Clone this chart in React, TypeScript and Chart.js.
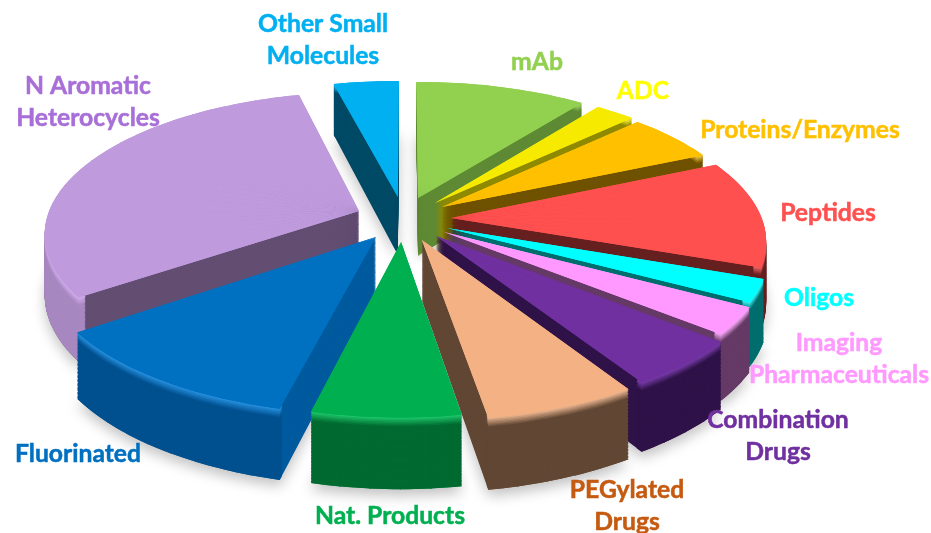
import React, { useEffect, useRef } from "react";
import { Chart, registerables } from "chart.js";

Chart.register(...registerables);

const categories = ["mAb", "ADC", "Proteins/Enzymes", "Peptides", "Oligos", "Imaging Pharmaceuticals", "Combination Drugs", "PEGylated Drugs", "Nat. Products", "Fluorinated", "N Aromatic Heterocycles", "Other Small Molecules"];
const shares = [10.3, 2.4, 5.6, 12.2, 2.5, 3.0, 5.1, 6.3, 6.3, 11.4, 30.9, 3.9];
const explodeU = [0.042, 0.096, 0.118, 0.145, 0.131, 0.121, 0.096, 0.052, -0.012, -0.09, -0.146, -0.023];
const explodeV = [-0.124, -0.087, -0.058, 0.021, 0.091, 0.119, 0.147, 0.174, 0.188, 0.154, -0.029, -0.131];
const radiusScale = [0.985, 0.985, 0.975, 0.98, 0.99, 0.995, 1.02, 1.03, 1.0, 1.02, 0.985, 0.987];
const faceColors = ["#92d050", "#f5ea00", "#ffc000", "#ff5050", "#00ffff", "#ff99ff", "#7030a0", "#f4b183", "#00b050", "#0070c0", "#bf9bde", "#00b0f0"];
const cutColors = ["#5f8a35", "#8f8a00", "#6f5200", "#662020", "#006e6e", "#663a66", "#2e1248", "#614734", "#00803a", "#005a9e", "#634e72", "#004a66"];
const rimColors = ["#5f8a35", "#8f8a00", "#6f5200", "#662020", "#006e6e", "#663a66", "#2e1248", "#614734", "#006a30", "#00508f", "#a888c0", "#004a66"];
const glowColors = ["#a6dc6c", "#fff23a", "#ffd040", "#ff6a6a", "#40ffff", "#ffb0ff", "#8040b4", "#f8c098", "#20d070", "#2a96e6", "#d4b0f0", "#20c0ff"];

const labelLines = [
  ["Other Small", "Molecules"], ["mAb"], ["ADC"], ["Proteins/Enzymes"], ["Peptides"], ["Oligos"],
  ["Imaging", "Pharmaceuticals"], ["Combination", "Drugs"], ["PEGylated", "Drugs"], ["Nat. Products"], ["Fluorinated"], ["N Aromatic", "Heterocycles"],
];
const labelColors = ["#00b0f0", "#92d050", "#ffff00", "#ffc000", "#ff5050", "#00ffff", "#ff99ff", "#7030a0", "#c55a11", "#00b050", "#0070c0", "#a86fd8"];
const labelAnchors = [[323, 24], [537, 62], [643, 91], [800, 130], [828, 213], [819, 298], [839, 343], [778, 420], [627, 490], [390, 516], [78, 454], [88, 86]];

const view = { cx: 405, cy: 215, rx: 316, ry: 140, persp: 0.15, depth: 59, layers: 50, maxPiece: (5 * Math.PI) / 180, overlap: (0.2 * Math.PI) / 180 };

function project(u: number, v: number, h: number) {
  const w = 1 - view.persp * v;
  return [view.cx + (view.rx * u) / w, view.cy + (view.ry * v + h) / w];
}
function mix(a: string, b: string, t: number) {
  const p = (s: string, i: number) => parseInt(s.slice(1 + i * 2, 3 + i * 2), 16);
  const c = [0, 1, 2].map((i) => Math.round(p(a, i) + (p(b, i) - p(a, i)) * t));
  return `rgb(${c[0]},${c[1]},${c[2]})`;
}

function placePiece(ctx: CanvasRenderingContext2D, el: any, i: number, a0: number, a1: number, h: number) {
  const ax = explodeU[i], ay = explodeV[i], s = radiusScale[i];
  const d0 = [Math.cos(a0), Math.sin(a0)];
  const d1 = [Math.cos(a1), Math.sin(a1)];
  const A = project(ax, ay, h);
  const P0 = project(ax + s * d0[0], ay + s * d0[1], h);
  const P1 = project(ax + s * d1[0], ay + s * d1[1], h);
  const t0 = [P0[0] - A[0], P0[1] - A[1]];
  const t1 = [P1[0] - A[0], P1[1] - A[1]];
  const det = d0[0] * d1[1] - d1[0] * d0[1];
  const i00 = d1[1] / det, i01 = -d1[0] / det, i10 = -d0[1] / det, i11 = d0[0] / det;
  const R = el.outerRadius;
  const a = (t0[0] * i00 + t1[0] * i10) / R;
  const c = (t0[0] * i01 + t1[0] * i11) / R;
  const b = (t0[1] * i00 + t1[1] * i10) / R;
  const d = (t0[1] * i01 + t1[1] * i11) / R;
  ctx.setTransform(a, b, c, d, A[0] - a * el.x - c * el.y, A[1] - b * el.x - d * el.y);
}

// Draws one slice at height h through the library's own ArcElement, split into
// small angular pieces so that each follows the perspective of the tilted plane.
function paintSlice(ctx: CanvasRenderingContext2D, el: any, i: number, span: number[], base: any, color: string, inner: number, h: number) {
  const [start, end] = span;
  const n = Math.ceil((end - start) / view.maxPiece);
  el.options = { ...base, backgroundColor: color, borderWidth: 0 };
  el.innerRadius = inner;
  for (let j = 0; j < n; j++) {
    const a0 = start + ((end - start) * j) / n;
    const a1 = start + ((end - start) * (j + 1)) / n;
    placePiece(ctx, el, i, a0, a1, h);
    el.startAngle = a0;
    el.endAngle = Math.min(a1 + view.overlap, end);
    el.circumference = el.endAngle - a0;
    el.draw(ctx);
  }
}

const pie3d = {
  id: "pie3d",
  beforeDatasetsDraw(chart: any) {
    const ctx: CanvasRenderingContext2D = chart.ctx;
    const arcs: any[] = chart.getDatasetMeta(0).data;
    const bases = arcs.map((a) => a.options);
    const spans = arcs.map((a) => [a.startAngle, a.endAngle]);
    const order = arcs.map((_, i) => i).sort((p, q) => {
      return Math.sin((spans[p][0] + spans[p][1]) / 2) - Math.sin((spans[q][0] + spans[q][1]) / 2);
    });
    ctx.save();
    ctx.shadowColor = "rgba(0,0,0,0.25)";
    ctx.shadowBlur = 14;
    ctx.shadowOffsetY = 6;
    order.forEach((i) => paintSlice(ctx, arcs[i], i, spans[i], bases[i], "#e4e4e4", 0, view.depth));
    ctx.shadowColor = "transparent";
    ctx.shadowBlur = 0;
    ctx.shadowOffsetY = 0;
    order.forEach((i) => {
      const el = arcs[i];
      const R = el.outerRadius;
      for (let k = view.layers; k > 0; k--) {
        paintSlice(ctx, el, i, spans[i], bases[i], cutColors[i], 0, (view.depth * k) / view.layers);
      }
      for (let k = view.layers; k > 0; k--) {
        const h = (view.depth * k) / view.layers;
        const t = Math.min(h / 8, 1);
        paintSlice(ctx, el, i, spans[i], bases[i], mix(glowColors[i], rimColors[i], t), R * 0.975, h);
      }
      paintSlice(ctx, el, i, spans[i], bases[i], faceColors[i], 0, 0);
      paintSlice(ctx, el, i, spans[i], bases[i], faceColors[i], 0, 0);
      el.innerRadius = 0;
      el.startAngle = spans[i][0];
      el.endAngle = spans[i][1];
      el.circumference = spans[i][1] - spans[i][0];
      el.options = bases[i];
    });
    ctx.restore();
    return false;
  },
  afterDraw(chart: any) {
    const ctx: CanvasRenderingContext2D = chart.ctx;
    ctx.save();
    ctx.font = "bold 24.7px Lato, 'Open Sans', sans-serif";
    ctx.textAlign = "center";
    ctx.textBaseline = "middle";
    ctx.lineWidth = 0.5;
    labelLines.forEach((lines, i) => {
      ctx.fillStyle = labelColors[i];
      ctx.strokeStyle = labelColors[i];
      lines.forEach((line, j) => {
        ctx.fillText(line, labelAnchors[i][0], labelAnchors[i][1] + j * 32);
        ctx.strokeText(line, labelAnchors[i][0], labelAnchors[i][1] + j * 32);
      });
    });
    ctx.restore();
  },
};

export default function App() {
  const ref = useRef<HTMLCanvasElement>(null);
  useEffect(() => {
    const chart = new Chart(ref.current!, {
      type: "pie",
      data: { labels: categories, datasets: [{ data: shares, backgroundColor: faceColors, borderWidth: 0 }] },
      options: {
        responsive: false,
        animation: false,
        plugins: { legend: { display: false }, tooltip: { enabled: false } },
      },
      plugins: [pie3d],
    } as any);
    return () => chart.destroy();
  }, []);
  return <canvas ref={ref} width={931} height={533} style={{ position: "absolute", left: 0, top: 0, display: "block" }} />;
}
